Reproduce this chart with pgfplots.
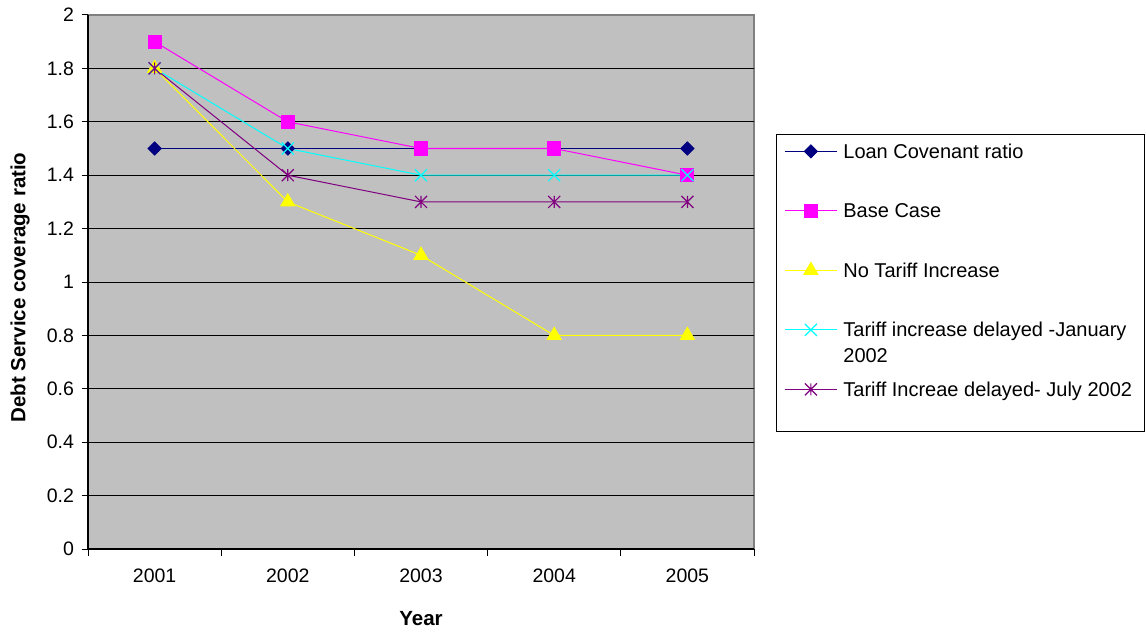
\documentclass[border=0pt]{standalone}
\usepackage{pgfplots}
\pgfplotsset{compat=1.18}
\usepackage{fontspec}
\setmainfont{Liberation Sans}
\usetikzlibrary{plotmarks}

\definecolor{covnavy}{HTML}{000080}
\definecolor{basemag}{HTML}{FF00FF}
\definecolor{notariff}{HTML}{FFFF00}
\definecolor{jancyan}{HTML}{00FFFF}
\definecolor{julpurple}{HTML}{800080}
\definecolor{plotbg}{HTML}{C0C0C0}
\definecolor{plotedge}{HTML}{808080}

% plain diagonal cross, half-width = mark size
\pgfdeclareplotmark{xcross}{%
  \pgfpathmoveto{\pgfqpoint{-\pgfplotmarksize}{-\pgfplotmarksize}}%
  \pgfpathlineto{\pgfqpoint{\pgfplotmarksize}{\pgfplotmarksize}}%
  \pgfpathmoveto{\pgfqpoint{-\pgfplotmarksize}{\pgfplotmarksize}}%
  \pgfpathlineto{\pgfqpoint{\pgfplotmarksize}{-\pgfplotmarksize}}%
  \pgfusepathqstroke}
% cross with a vertical bar through it
\pgfdeclareplotmark{xstar}{%
  \pgfpathmoveto{\pgfqpoint{-\pgfplotmarksize}{-\pgfplotmarksize}}%
  \pgfpathlineto{\pgfqpoint{\pgfplotmarksize}{\pgfplotmarksize}}%
  \pgfpathmoveto{\pgfqpoint{-\pgfplotmarksize}{\pgfplotmarksize}}%
  \pgfpathlineto{\pgfqpoint{\pgfplotmarksize}{-\pgfplotmarksize}}%
  \pgfpathmoveto{\pgfqpoint{0pt}{-\pgfplotmarksize}}%
  \pgfpathlineto{\pgfqpoint{0pt}{\pgfplotmarksize}}%
  \pgfusepathqstroke}

\tikzset{lgtext/.style={text height=20pt,text depth=5pt}}

\begin{document}
\begin{tikzpicture}
\useasboundingbox (0,0) rectangle (1146pt,633pt);
\begin{axis}[
  at={(88pt,84pt)}, anchor=south west,
  scale only axis, width=666pt, height=534pt,
  xmin=0.5, xmax=5.5, ymin=0, ymax=2,
  axis background/.style={fill=plotbg, draw=plotedge, line width=1.2pt},
  axis x line*=bottom, axis y line*=left,
  axis line style={black, line width=1.2pt},
  xtick={1,2,3,4,5},
  xticklabels={2001,2002,2003,2004,2005},
  minor xtick={0.5,1.5,2.5,3.5,4.5,5.5},
  every major x tick/.style={draw=none},
  every minor x tick/.style={black, line width=1pt},
  minor tick length=7pt,
  ytick={0,0.2,0.4,0.6,0.8,1,1.2,1.4,1.6,1.8},
  extra y ticks={2},
  extra y tick style={grid=none},
  every major y tick/.style={black, line width=1pt},
  major tick length=6pt,
  tick align=outside,
  ymajorgrids,
  major grid style={black, line width=1pt},
  /pgf/number format/assume math mode=true,
  tick label style={font=\fontsize{19.5}{23}\selectfont},
  xticklabel style={yshift=-10.5pt},
  yticklabel style={xshift=-4.5pt},
  xlabel={Year},
  ylabel={Debt Service coverage ratio},
  label style={font=\fontsize{20.5}{24}\selectfont\bfseries},
  xlabel style={at={(axis description cs:0.5,-0.130)}, anchor=center},
  ylabel style={at={(axis description cs:-0.1021,0.4897)}, anchor=center, rotate=0},
  legend style={
    at={(axis description cs:1.033,0.7772)}, anchor=north west,
    draw=black, line width=0.8pt, fill=white,
    inner xsep=8pt, inner ysep=4pt,
    row sep=34.5pt, column sep=6pt,
    cells={anchor=base west},
    nodes={inner sep=0pt},
    font=\fontsize{20}{26}\selectfont,
  },
  legend image code/.code={%
    \draw[mark repeat=2, mark phase=2, line width=1pt]
      plot coordinates {(0pt,7pt) (26pt,7pt) (52pt,7pt)};},
  every axis plot/.append style={line width=1pt},
]
\addplot[color=covnavy, mark=square*, mark size=4.6pt,
  mark options={rotate=45, solid, fill=covnavy}]
  coordinates {(1,1.5) (2,1.5) (3,1.5) (4,1.5) (5,1.5)};
\addlegendentry[lgtext]{Loan Covenant ratio}

\addplot[color=basemag, mark=square*, mark size=6.5pt,
  mark options={solid, fill=basemag}]
  coordinates {(1,1.9) (2,1.6) (3,1.5) (4,1.5) (5,1.4)};
\addlegendentry[lgtext]{Base Case}

\addplot[color=notariff, mark=triangle*, mark size=8pt,
  mark options={solid, fill=notariff}]
  coordinates {(1,1.8) (2,1.3) (3,1.1) (4,0.8) (5,0.8)};
\addlegendentry[lgtext]{No Tariff Increase}

\addplot[color=jancyan, mark=xcross, mark size=6pt,
  mark options={solid, line width=1.2pt}]
  coordinates {(1,1.8) (2,1.5) (3,1.4) (4,1.4) (5,1.4)};
\addlegendentry[lgtext]{\parbox[t]{293pt}{Tariff increase delayed -January\\2002}}

\addplot[color=julpurple, mark=xstar, mark size=6pt,
  mark options={solid, line width=1.2pt}]
  coordinates {(1,1.8) (2,1.4) (3,1.3) (4,1.3) (5,1.3)};
\addlegendentry[text height=20pt, text depth=31pt]{Tariff Increae delayed- July 2002}
\end{axis}
\end{tikzpicture}
\end{document}
